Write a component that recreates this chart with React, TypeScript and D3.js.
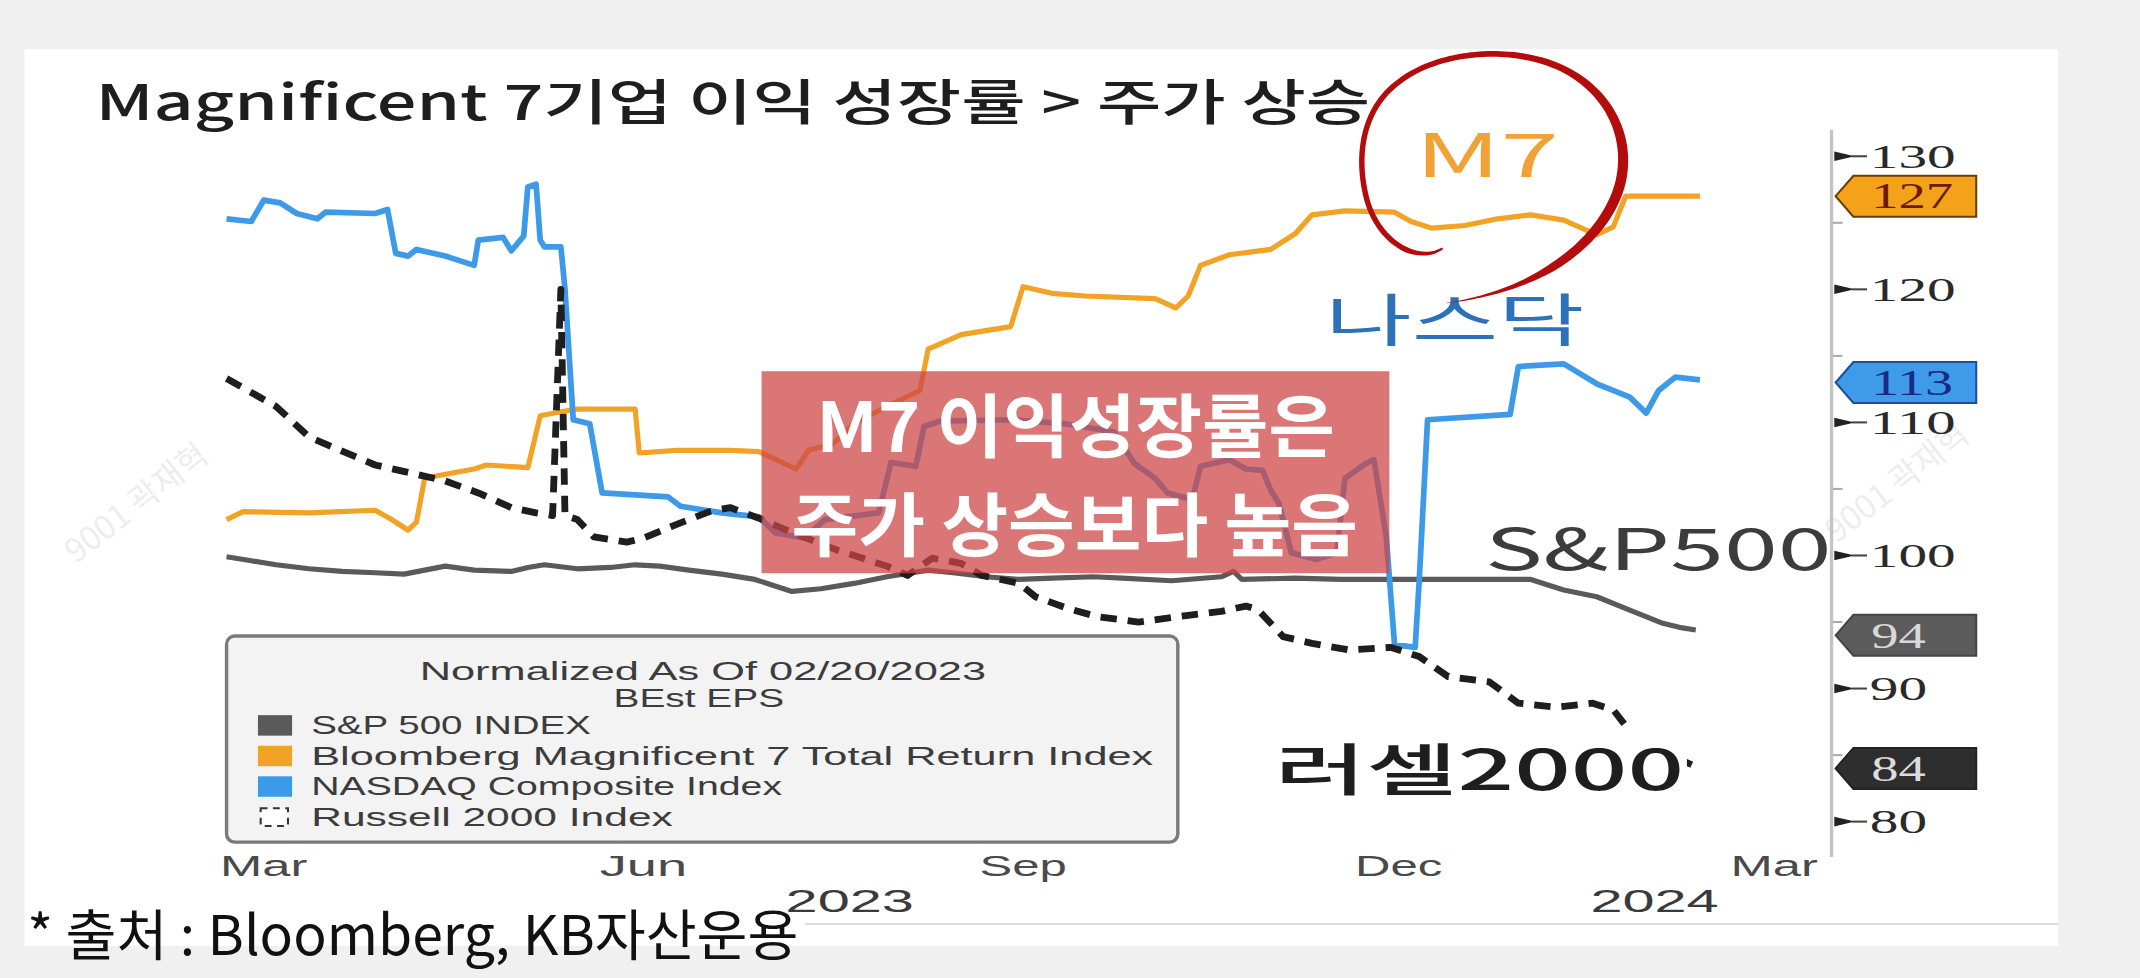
import React, { useRef, useEffect } from "react";
import * as d3 from "d3";

// Normalized As Of 02/20/2023, BEst EPS
const BASE_DATE = new Date(2023, 1, 20);

// [days since 02/20/2023, normalized value]
const spx: [number, number][] = [
  [0, 99.9], [6, 99.6], [12, 99.3], [20, 99.0], [28, 98.8], [36, 98.7], [43, 98.6],
  [48, 98.9], [53, 99.2], [60, 98.9], [69, 98.8], [73, 99.1], [77, 99.3], [85, 99.0],
  [93, 99.1], [99, 99.3], [105, 99.2], [112, 98.9], [120, 98.6], [128, 98.2], [137, 97.3],
  [144, 97.5], [152, 97.9], [160, 98.4], [170, 98.9], [176, 98.7], [184, 98.4], [192, 98.2],
  [200, 98.3], [210, 98.4], [217, 98.3], [229, 98.1], [241, 98.4], [244, 98.8], [246, 98.2],
  [259, 98.3], [270, 98.2], [283, 98.2], [300, 98.2], [316, 98.2], [324, 97.4], [332, 96.9],
  [340, 95.9], [348, 94.9], [352, 94.6], [356, 94.4],
];

const mag7: [number, number][] = [
  [0, 102.7], [4, 103.3], [20, 103.2], [36, 103.4], [40, 102.7], [44, 101.9], [46, 102.5],
  [48, 105.8], [53, 106.1], [60, 106.5], [63, 106.8], [73, 106.6], [76, 110.5], [81, 110.8],
  [85, 111.0], [99, 111.0], [100, 107.7], [109, 107.9], [122, 107.9], [129, 107.8],
  [138, 106.5], [141, 107.9], [147, 108.4], [152, 109.9], [160, 111.2], [168, 112.4],
  [170, 115.5], [178, 116.6], [184, 116.9], [190, 117.2], [193, 120.2], [200, 119.7],
  [208, 119.5], [225, 119.3], [230, 118.6], [233, 119.5], [236, 121.8], [243, 122.6],
  [253, 123.0], [259, 124.2], [263, 125.6], [271, 125.9], [283, 125.8], [287, 125.1],
  [292, 124.6], [300, 124.8], [308, 125.3], [316, 125.6], [324, 125.2], [332, 124.1],
  [336, 124.7], [339, 127.0], [357, 127.0],
];

const nasdaq: [number, number][] = [
  [0, 125.3], [6, 125.1], [9, 126.7], [13, 126.5], [17, 125.7], [22, 125.3], [24, 125.8],
  [36, 125.7], [39, 126.0], [41, 122.7], [44, 122.5], [46, 123.0], [53, 122.5], [60, 121.8],
  [61, 123.7], [67, 123.9], [69, 122.9], [72, 124.0], [73, 127.7], [75, 127.9], [76, 123.7],
  [77, 123.2], [81, 123.2], [82, 120.0], [84, 110.2], [88, 109.9], [91, 104.7], [107, 104.4],
  [110, 103.7], [120, 103.2], [129, 102.9], [133, 101.7], [140, 101.3], [145, 102.7],
  [158, 103.2], [161, 107.0], [167, 106.7], [169, 109.7], [173, 110.1], [190, 110.2],
  [203, 109.9], [215, 109.3], [220, 106.9], [225, 105.8], [228, 104.7], [234, 104.2],
  [236, 106.7], [243, 107.2], [247, 106.5], [251, 106.4], [253, 104.9], [255, 103.9],
  [258, 100.2], [264, 99.7], [269, 100.2], [271, 105.8], [276, 106.9], [278, 107.2],
  [281, 101.4], [283, 93.3], [288, 93.1], [289, 98.2], [291, 110.2], [311, 110.6],
  [313, 114.2], [324, 114.4], [332, 112.9], [340, 111.9], [344, 110.7], [347, 112.4],
  [351, 113.4], [357, 113.2],
];

const russell: [number, number][] = [
  [0, 113.3], [12, 111.2], [20, 108.9], [36, 106.8], [46, 106.1], [53, 105.6], [61, 104.7],
  [69, 103.6], [75, 103.2], [79, 103.0], [81, 120.0], [82, 103.0], [85, 102.7], [89, 101.4],
  [97, 101.0], [101, 101.3], [108, 102.2], [117, 103.3], [122, 103.6], [129, 102.8],
  [138, 101.6], [148, 100.4], [160, 99.2], [165, 98.5], [171, 99.8], [178, 99.4], [183, 98.5],
  [192, 97.9], [196, 96.9], [204, 96.0], [211, 95.4], [221, 95.0], [233, 95.5], [241, 95.8],
  [247, 96.2], [250, 95.9], [256, 93.9], [263, 93.4], [272, 92.9], [282, 93.1], [289, 92.4],
  [296, 90.9], [306, 90.5], [313, 88.9], [322, 88.6], [331, 88.9], [336, 88.4], [339, 87.2],
  [340, 86.4], [349, 85.1], [357, 84.0],
];

const yTicks = [80, 90, 100, 110, 120, 130];
const yMinorTicks = [85, 95, 105, 115, 125];
const monthTicks = [
  new Date(2023, 2, 1), new Date(2023, 5, 1), new Date(2023, 8, 1),
  new Date(2023, 11, 1), new Date(2024, 2, 1),
];
const monthLabels = ["Mar", "Jun", "Sep", "Dec", "Mar"];
const yearDates = [new Date(2023, 6, 21), new Date(2024, 1, 1)];
const yearLabels = ["2023", "2024"];

const legendTitle = ["Normalized As Of 02/20/2023", "BEst EPS"];
const boxLines = ["M7 이익성장률은", "주가 상승보다 높음"];

const series = [
  { name: "S&P 500 INDEX", data: spx, color: "#5a5a5a", width: 3.8, dash: null,
    tagFill: "#5b5b5b", tagStroke: "#444", tagText: "#d8d8d8", legendLen: 205 },
  { name: "Bloomberg Magnificent 7 Total Return Index", data: mag7, color: "#f2a224", width: 3.8, dash: null,
    tagFill: "#f5a21b", tagStroke: "#6b3d00", tagText: "#6a1a00", legendLen: 617 },
  { name: "NASDAQ Composite Index", data: nasdaq, color: "#3d9ae8", width: 4.2, dash: null,
    tagFill: "#3d9be9", tagStroke: "#1b4f9e", tagText: "#1a2a80", legendLen: 345 },
  { name: "Russell 2000 Index", data: russell, color: "#1e1e1e", width: 5, dash: "12,8",
    tagFill: "#2e2e2e", tagStroke: "#222", tagText: "#dcdcdc", legendLen: 265 },
];

const KR = "'Noto Sans CJK KR', 'Noto Sans', sans-serif";
const SANS = "'Liberation Sans', Arial, sans-serif";
const SERIF = "'Liberation Serif', 'DejaVu Serif', serif";

const CIRCLE_PATH =
  "M1057,182 C1040,193 1012,180 1002,148 C992,112 1000,78 1025,60 C1050,40 1100,32 1140,48 C1178,64 1196,100 1187,135 C1177,172 1135,212 1060,222";

const App: React.FC = () => {
  const svgRef = useRef<SVGSVGElement>(null);

  useEffect(() => {
    if (!svgRef.current) return;
    const svg = d3.select(svgRef.current);
    svg.selectAll("*").remove();

    const addText = (
      sel: any, s: string, x: number, y: number,
      o: { font: string; size: number; fill: string; weight?: number; anchor?: string; len?: number; sy?: number }
    ) => {
      const g = sel.append("g").attr("transform", `translate(${x},${y}) scale(1,${o.sy || 1})`);
      return g.append("text")
        .attr("font-family", o.font)
        .attr("font-size", o.size)
        .attr("font-weight", o.weight || 400)
        .attr("fill", o.fill)
        .attr("text-anchor", o.anchor || "start")
        .attr("textLength", o.len)
        .attr("lengthAdjust", o.len ? "spacingAndGlyphs" : null)
        .text(s);
    };

    // page + white card
    svg.append("rect").attr("width", 1568).attr("height", 717).attr("fill", "#f0f0f0");
    svg.append("rect").attr("x", 18).attr("y", 36).attr("width", 1490).attr("height", 657).attr("fill", "#fff");
    svg.append("line").attr("x1", 590).attr("x2", 1508).attr("y1", 677).attr("y2", 677)
      .attr("stroke", "#dcdcdc").attr("stroke-width", 1.5);

    // faint watermarks
    [[105, 375], [1395, 360]].forEach(([wx, wy]) => {
      addText(svg, "9001 곽재혁", wx, wy, { font: KR, size: 24, fill: "#d9d9d9", anchor: "middle" })
        .attr("transform", "rotate(-38)").attr("opacity", 0.45);
    });

    addText(svg, "Magnificent 7기업 이익 성장률 > 주가 상승", 70, 88,
      { font: KR, size: 36, fill: "#1e1e1e", weight: 500, len: 934 });

    const x = d3.scaleTime().domain([BASE_DATE, new Date(2024, 2, 1)]).range([166, 1300]);
    const y = d3.scaleLinear().domain([80, 130]).range([602, 114.5]);

    // right axis
    svg.append("line").attr("x1", 1342).attr("x2", 1342).attr("y1", 95).attr("y2", 628)
      .attr("stroke", "#c4c4c4").attr("stroke-width", 2.5);
    yMinorTicks.forEach((t) => {
      svg.append("line").attr("x1", 1343).attr("x2", 1350).attr("y1", y(t)).attr("y2", y(t))
        .attr("stroke", "#aaa").attr("stroke-width", 1.5);
    });
    yTicks.forEach((t) => {
      const ty = y(t);
      svg.append("path")
        .attr("d", `M1344,${ty - 3.5}L1359,${ty}L1344,${ty + 3.5}Z`).attr("fill", "#222");
      svg.append("line").attr("x1", 1357).attr("x2", 1368).attr("y1", ty).attr("y2", ty)
        .attr("stroke", "#444").attr("stroke-width", 1.5);
      const s = String(t);
      addText(svg, s, 1370, ty + 8.5, { font: SERIF, size: 25, fill: "#2a2a2a", len: 21 * s.length });
    });

    // x axis labels
    monthTicks.forEach((d, i) => {
      addText(svg, monthLabels[i], x(d), 642, { font: SANS, size: 22, fill: "#4a4a4a", anchor: "middle", len: 64 });
    });
    yearDates.forEach((d, i) => {
      addText(svg, yearLabels[i], x(d), 668, { font: SANS, size: 23, fill: "#3a3a3a", anchor: "middle", len: 94 });
    });

    // lines
    const line = d3.line<[number, number]>()
      .x((d) => x(d3.timeDay.offset(BASE_DATE, d[0])))
      .y((d) => y(d[1]));
    series.forEach((s) => {
      svg.append("path")
        .datum(s.data)
        .attr("d", line)
        .attr("fill", "none")
        .attr("stroke", s.color)
        .attr("stroke-width", s.width)
        .attr("stroke-linejoin", "round")
        .attr("stroke-dasharray", s.dash);
    });

    // last value tags
    series.forEach((s) => {
      const last = Math.round(s.data[s.data.length - 1][1]);
      const ty = y(last);
      svg.append("path")
        .attr("d", `M1345,${ty}L1358,${ty - 15}L1448,${ty - 15}L1448,${ty + 15}L1358,${ty + 15}Z`)
        .attr("fill", s.tagFill).attr("stroke", s.tagStroke).attr("stroke-width", 1.5);
      const label = String(last);
      addText(svg, label, 1371, ty + 9, { font: SERIF, size: 26, fill: s.tagText, len: 20 * label.length });
    });

    // legend
    const lg = svg.append("g");
    lg.append("rect").attr("x", 166).attr("y", 466).attr("width", 697).attr("height", 151)
      .attr("rx", 6).attr("fill", "#f3f3f3").attr("stroke", "#7a7a7a").attr("stroke-width", 2.5);
    addText(lg, legendTitle[0], 515, 498, { font: SANS, size: 19, fill: "#3c3c3c", anchor: "middle", len: 415 });
    addText(lg, legendTitle[1], 512, 518, { font: SANS, size: 19, fill: "#3c3c3c", anchor: "middle", len: 125 });
    series.forEach((s, i) => {
      const by = 538 + i * 22.4;
      if (s.dash) {
        lg.append("rect").attr("x", 191).attr("y", by - 13).attr("width", 20).attr("height", 13)
          .attr("fill", "#fff").attr("stroke", "#333").attr("stroke-width", 1.5).attr("stroke-dasharray", "5,4");
      } else {
        lg.append("rect").attr("x", 189).attr("y", by - 14).attr("width", 25).attr("height", 15).attr("fill", s.color);
      }
      addText(lg, s.name, 228, by, { font: SANS, size: 19, fill: "#3c3c3c", len: s.legendLen });
    });

    // annotations
    addText(svg, "M7", 1037, 130, { font: KR, size: 44, fill: "#f0a236", len: 105 });
    addText(svg, "나스닥", 971, 250, { font: KR, size: 42, fill: "#2d72b8", len: 190 });
    addText(svg, "S&P500", 1088, 418, { font: KR, size: 42, fill: "#3c3c3c", len: 254 });
    svg.append("rect").attr("x", 930).attr("y", 536).attr("width", 306).attr("height", 50).attr("fill", "#fff");
    addText(svg, "러셀2000", 934, 579, { font: KR, size: 41, fill: "#1e1e1e", weight: 500, len: 300 });

    // hand-drawn red circle around M7, tapered brush stroke
    const guide = svg.append("path").attr("d", CIRCLE_PATH).attr("fill", "none");
    const node = guide.node() as SVGPathElement;
    const total = node.getTotalLength();
    const outer: [number, number][] = [];
    const inner: [number, number][] = [];
    const steps = 180;
    for (let i = 0; i <= steps; i++) {
      const t = i / steps;
      const l = t * total;
      const p = node.getPointAtLength(l);
      const a = node.getPointAtLength(Math.max(0, l - 0.6));
      const b = node.getPointAtLength(Math.min(total, l + 0.6));
      const len = Math.hypot(b.x - a.x, b.y - a.y) || 1;
      const nx = -(b.y - a.y) / len;
      const ny = (b.x - a.x) / len;
      const taper = Math.min(1, 0.4 + t * 12) * Math.min(1, (1 - t) * 6.5 + 0.05);
      const w = (2.0 + 1.8 * Math.exp(-Math.pow((t - 0.72) / 0.17, 2))) * taper;
      outer.push([p.x + nx * w, p.y + ny * w]);
      inner.push([p.x - nx * w, p.y - ny * w]);
    }
    guide.remove();
    svg.append("path")
      .attr("d", (d3.line()(outer.concat(inner.reverse())) || "") + "Z")
      .attr("fill", "#b40c0c");

    // highlight box
    svg.append("rect").attr("x", 558).attr("y", 272).attr("width", 460).attr("height", 148)
      .attr("fill", "rgb(205,70,70)").attr("opacity", 0.74);
    const sy = 1.13;
    const boxText = svg.append("g")
      .attr("transform", `translate(0,331) scale(1,${sy})`)
      .append("text")
      .attr("font-family", KR)
      .attr("font-size", 45)
      .attr("font-weight", 700)
      .attr("fill", "#fff");
    boxText.append("tspan").attr("x", 598).attr("y", 0)
      .attr("textLength", 380).attr("lengthAdjust", "spacingAndGlyphs").text(boxLines[0]);
    boxText.append("tspan").attr("x", 580).attr("y", 73 / sy)
      .attr("textLength", 415).attr("lengthAdjust", "spacingAndGlyphs").text(boxLines[1]);

    // source
    addText(svg, "* 출처 : Bloomberg, KB자산운용", 20, 700, { font: KR, size: 36, fill: "#111", weight: 400, len: 565, sy: 1.12 });
  }, []);

  return (
    <svg
      ref={svgRef}
      width={2140}
      height={978}
      viewBox="0 0 1568 716.58"
      style={{ position: "absolute", left: 0, top: 0, display: "block" }}
    ></svg>
  );
};

export default App;
